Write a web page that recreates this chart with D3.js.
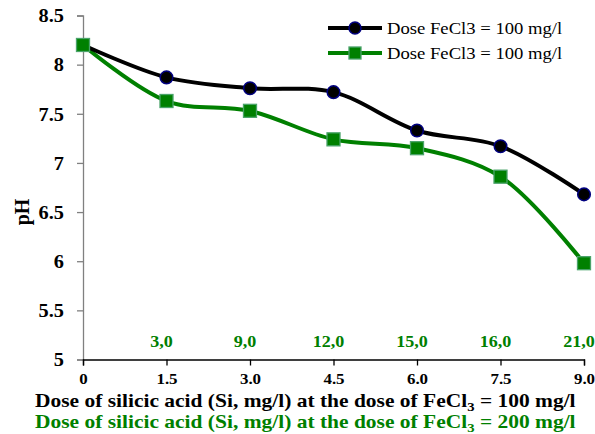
<!DOCTYPE html>
<html><head><meta charset="utf-8">
<script src="https://cdn.jsdelivr.net/npm/d3@7"></script>
<style>body{margin:0;background:#fff}svg{display:block}
svg text{font-family:"Liberation Serif","Times New Roman",Times,serif !important}</style>
</head><body><svg id="c" width="595" height="434"></svg>
<script>
const xValues = [0, 1.5, 3.0, 4.5, 6.0, 7.5, 9.0];
const xTickLabels = ["0", "1.5", "3.0", "4.5", "6.0", "7.5", "9.0"];
const series100 = [8.2, 7.87, 7.76, 7.72, 7.33, 7.17, 6.68];
const series200 = [8.2, 7.63, 7.53, 7.24, 7.15, 6.86, 5.98];
const greenLabels = ["", "3,0", "9,0", "12,0", "15,0", "16,0", "21,0"];
const yTicks = [5, 5.5, 6, 6.5, 7, 7.5, 8, 8.5];
const legendNames = ["Dose FeCl3 = 100 mg/l", "Dose FeCl3 = 100 mg/l"];

const svg = d3.select("#c");
const x = d3.scaleLinear().domain([0, 9]).range([83, 584]);
const y = d3.scaleLinear().domain([5, 8.5]).range([359.5, 15.5]);
const green = "#008000";
const SX = 1.13;
function stretch(sel) {
  sel.each(function () {
    const l = this.getComputedTextLength();
    d3.select(this).attr("textLength", l * SX).attr("lengthAdjust", "spacingAndGlyphs");
  });
}

// y axis
const ya = svg.append("g").attr("transform", "translate(83,0)")
  .call(d3.axisLeft(y).tickValues(yTicks).tickSize(6).tickPadding(13)
    .tickFormat(d => d3.format("")(d)));
ya.attr("font-family", null);
ya.select(".domain").attr("stroke", "#808080").attr("stroke-width", 1.3);
ya.selectAll(".tick line").attr("stroke", "#808080").attr("stroke-width", 1.3);
ya.selectAll("text").attr("font-weight", "bold")
  .attr("font-size", 18).attr("fill", "#000").attr("dy", "0.35em").call(stretch);

// x axis
const xa = svg.append("g").attr("transform", "translate(0,359.5)")
  .call(d3.axisBottom(x).tickValues(xValues).tickSize(6).tickPadding(8)
    .tickFormat((d, i) => xTickLabels[i]));
xa.attr("font-family", null);
xa.select(".domain").attr("stroke", "#000").attr("stroke-width", 1.3);
xa.selectAll(".tick line").attr("stroke", "#000").attr("stroke-width", 1.3);
xa.selectAll("text").attr("font-weight", "bold")
  .attr("font-size", 15).attr("fill", "#000").call(stretch);

// green labels above x axis
svg.append("g").selectAll("text").data(xValues).join("text")
  .attr("x", d => x(d) - 5).attr("y", 347)
  .attr("text-anchor", "middle")
  .attr("font-weight", "bold").attr("font-size", 16).attr("fill", green)
  .text((d, i) => greenLabels[i]).call(stretch);

// lines
const line = d3.line().x((d, i) => x(xValues[i])).y(d => y(d)).curve(d3.curveCatmullRom.alpha(0.5));
svg.append("path").datum(series200).attr("d", line).attr("fill", "none")
  .attr("stroke", green).attr("stroke-width", 4);
svg.append("path").datum(series100).attr("d", line).attr("fill", "none")
  .attr("stroke", "#000").attr("stroke-width", 4);

// markers
svg.append("g").selectAll("circle").data(series100).join("circle")
  .attr("cx", (d, i) => x(xValues[i])).attr("cy", d => y(d)).attr("r", 6.3)
  .attr("fill", "#000").attr("stroke", "#000080").attr("stroke-width", 1.5);
svg.append("g").selectAll("rect").data(series200).join("rect")
  .attr("x", (d, i) => x(xValues[i]) - 6.5).attr("y", d => y(d) - 6.5)
  .attr("width", 13).attr("height", 13)
  .attr("fill", green).attr("stroke", "#4aa36a").attr("stroke-width", 1.3);

// legend
const lg = svg.append("g");
[0, 1].forEach(k => {
  const ly = k === 0 ? 28 : 53;
  lg.append("line").attr("x1", 328).attr("x2", 382).attr("y1", ly).attr("y2", ly)
    .attr("stroke", k === 0 ? "#000" : green).attr("stroke-width", 4);
  if (k === 0) lg.append("circle").attr("cx", 355).attr("cy", ly).attr("r", 6)
    .attr("fill", "#000").attr("stroke", "#000080").attr("stroke-width", 1.5);
  else lg.append("rect").attr("x", 349).attr("y", ly - 6).attr("width", 12).attr("height", 12)
    .attr("fill", green).attr("stroke", "#4aa36a").attr("stroke-width", 1.3);
  lg.append("text").attr("x", 387).attr("y", ly).attr("dy", "0.35em")
    .attr("font-size", 16.5).attr("fill", "#000")
    .text(legendNames[k]).call(stretch);
});

// y title
svg.append("text").attr("transform", "translate(29,212) rotate(-90)")
  .attr("text-anchor", "middle").attr("font-weight", "bold")
  .attr("font-size", 20).attr("fill", "#000").text("pH");

// x titles
function xTitle(yPos, color, dose) {
  const g = svg.append("g").attr("transform", `translate(35,${yPos}) scale(${SX},1)`);
  const t = g.append("text").attr("x", 0).attr("y", 0)
    .attr("font-weight", "bold").attr("font-size", 19)
    .attr("fill", color);
  t.append("tspan").text("Dose of silicic acid (Si, mg/l) at the dose of FeCl");
  t.append("tspan").attr("font-size", 13).attr("dy", 4).text("3");
  t.append("tspan").attr("dy", -4).text(" = " + dose + " mg/l");
}
xTitle(407, "#000", "100");
xTitle(428, green, "200");
</script></body></html>
